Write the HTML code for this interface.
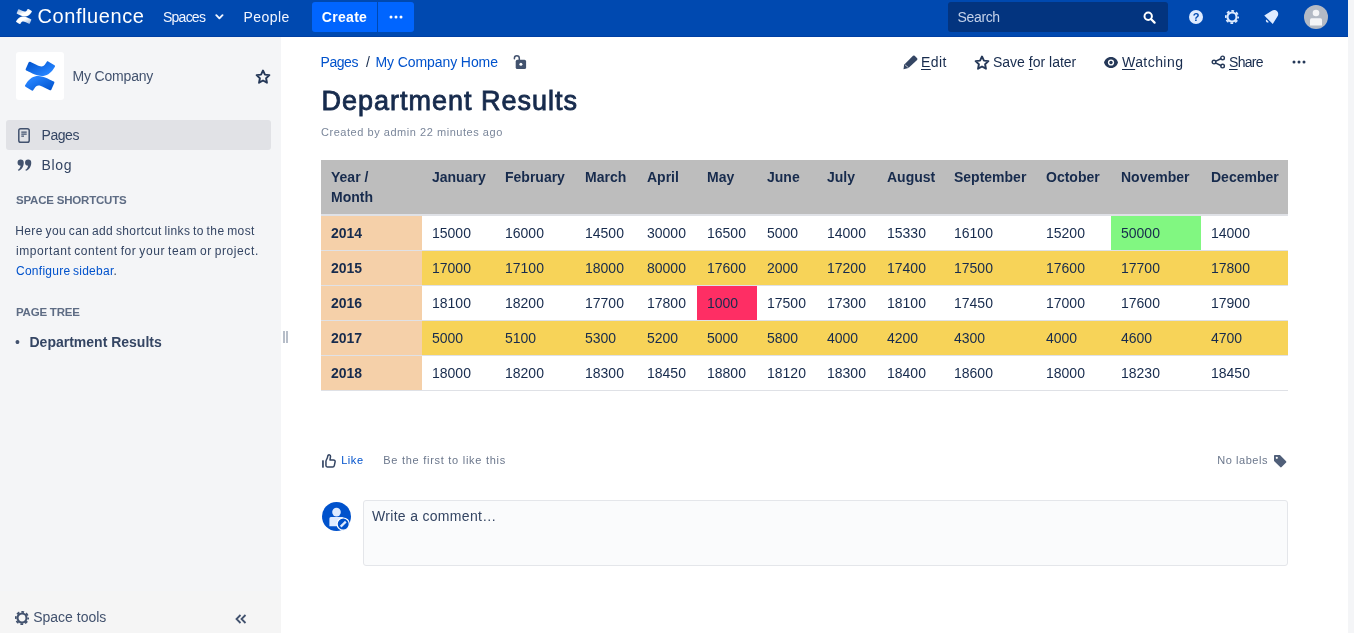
<!DOCTYPE html>
<html lang="en">
<head>
<meta charset="utf-8">
<title>Department Results - My Company - Confluence</title>
<style>
*{box-sizing:border-box;margin:0;padding:0}
html,body{width:1354px;height:633px;overflow:hidden;background:#fff}
body{font-family:"Liberation Sans",sans-serif;font-size:14px;color:#172b4d;position:relative}
a{color:#0052cc;text-decoration:none}
.abs{position:absolute;white-space:nowrap}
svg{display:block}
/* ---------- header ---------- */
#header{position:absolute;left:0;top:0;width:1348px;height:37px;background:#0049b0;border-bottom:1px solid #003fa3}
#header .nav{position:absolute;top:0;height:37px;line-height:34px;color:#f2f6ff;font-size:14px;white-space:nowrap}
#logo-text{position:absolute;left:37.500px;top:-1px;line-height:34px;font-size:20px;color:#fff;white-space:nowrap}
#create{position:absolute;left:312px;top:2px;width:65px;height:30px;background:#0065ff;border-radius:3px 0 0 3px;color:#fff;font-weight:bold;font-size:14px;line-height:30px;text-align:center}
#create-more{position:absolute;left:378px;top:2px;width:36px;height:30px;background:#0065ff;border-radius:0 3px 3px 0}
#search{position:absolute;left:948px;top:2px;width:220px;height:30px;background:#03347f;border-radius:3px;color:#c4d1ea;line-height:30px;padding-left:10px;font-size:14px}
#scroll{position:absolute;left:1348px;top:0;width:6px;height:633px;background:#f4f5f7}
/* ---------- sidebar ---------- */
#sidebar{position:absolute;left:0;top:37px;width:281px;height:596px;background:#f4f5f7}
#space-logo{position:absolute;left:16px;top:15px;width:48px;height:48px;background:#fff;border-radius:3px}
.side-item{position:absolute;left:6px;width:265px;height:30px;border-radius:3px;line-height:30px;color:#344563;font-size:14px}
.side-item span{position:absolute;left:36px;top:0}
.side-h{position:absolute;left:16px;font-size:12px;font-weight:bold;color:#5e6c84;white-space:nowrap;line-height:14px}
.tip{word-spacing:-1px;position:absolute;left:16px;font-size:12px;line-height:20px;color:#344563;white-space:nowrap}
/* ---------- main ---------- */
#main{position:absolute;left:281px;top:37px;width:1067px;height:596px;background:#fff}
.act{position:absolute;top:0;font-size:14px;color:#172b4d;line-height:16px;white-space:nowrap}
.act u{text-decoration:underline;text-underline-offset:2px}
h1{position:absolute;left:40.500px;top:49px;font-size:24px;font-weight:bold;line-height:30px;color:#172b4d;white-space:nowrap}
/* table */
table{position:absolute;left:40px;top:123px;border-collapse:collapse;table-layout:fixed;width:967px;font-size:14px;color:#172b4d}
th,td{padding:0 0 0 10px;text-align:left;vertical-align:top;white-space:nowrap;overflow:hidden}
thead th{height:55px;background:#bdbdbd;font-weight:bold;line-height:20px;padding-top:7px;border-bottom:2px solid #dfe1e6}
thead tr{height:55px}
tbody td,tbody th{height:35px;line-height:34px;border-bottom:1px solid #dfe1e6}
tbody th{background:#f5d0a9;font-weight:bold}
tr.y td{background:#f7d358}
td.r{background:#fe2e64}
td.g{background:#81f781}

/*FIT*/
#logo-text{letter-spacing:.58px}
#t-spaces{letter-spacing:-.76px}
#t-people{letter-spacing:.44px}
#t-create{letter-spacing:.3px}
#t-search{letter-spacing:-.34px}
#t-myco{letter-spacing:-.18px}
#t-pages{letter-spacing:-.43px}
#t-blog{letter-spacing:.67px}
#t-ss{font-size:11.5px;letter-spacing:-.2px}
#t-tip1{letter-spacing:.39px}
#t-tip2{letter-spacing:.59px}
#t-tip3{letter-spacing:.26px}
#t-pt{font-size:11.5px;letter-spacing:-.22px}
#t-bc1{letter-spacing:-.45px}
#t-bc2{letter-spacing:-.09px}
#t-h1{font-size:27px;font-weight:normal;-webkit-text-stroke:.85px #172b4d;letter-spacing:1px}
#t-meta{letter-spacing:.54px}
#t-edit{letter-spacing:.43px}
#t-watch{letter-spacing:.44px}
#t-share{letter-spacing:-.7px}
#t-first{letter-spacing:.73px}
#t-nolab{letter-spacing:.55px}
#t-wc{letter-spacing:.31px}
#t-like{letter-spacing:.55px}
#t-spaces{margin-left:-1px}
#t-people,#t-search,#t-myco,#t-pages,#t-blog,#t-dr,#t-bc1,#t-bc2{margin-left:-.5px}
#t-tip1,#t-st,#t-like,#t-first,#t-nolab{margin-left:-.8px}
/*ENDFIT*/
</style>
</head>
<body>
<div id="header">
  <svg class="abs" style="left:16px;top:9px" width="16" height="15" viewBox="0 0 16 15">
    <defs><linearGradient id="w1" x1="1" y1="1" x2="0.250" y2="0.200"><stop offset="0" stop-color="#fff" stop-opacity=".55"/><stop offset=".7" stop-color="#fff"/></linearGradient><linearGradient id="w2" x1="0" y1="0" x2="0.750" y2="0.800"><stop offset="0" stop-color="#fff" stop-opacity=".55"/><stop offset=".7" stop-color="#fff"/></linearGradient></defs>
    <path d="M0.600 11.600c-.2.300-.4.600-.5.800-.1.300 0 .6.200.7l3.300 2c.3.200.6.100.8-.2.100-.2.300-.5.500-.8 1.300-2.100 2.600-1.900 4.900-.8l3.200 1.500c.3.100.6 0 .8-.3l1.500-3.500c.1-.3 0-.6-.3-.7-.7-.3-2-1-3.200-1.500C7.400 6.700 3.500 6.900.600 11.600z" fill="url(#w1)"/>
    <path d="M15.400 3.400c.2-.3.400-.6.500-.8.100-.3 0-.6-.2-.7l-3.300-2c-.3-.2-.6-.1-.8.200-.1.200-.3.500-.5.800-1.300 2.100-2.600 1.900-4.900.8L3 .200c-.3-.1-.6 0-.8.300L.700 4c-.1.300 0 .6.300.7.700.3 2 1 3.200 1.500C8.600 8.300 12.500 8.100 15.400 3.400z" fill="url(#w2)"/>
  </svg>
  <div id="logo-text">Confluence</div>
  <div class="nav" id="t-spaces" style="left:164px">Spaces</div>
  <svg class="abs" style="left:215px;top:14px" width="9" height="6" viewBox="0 0 9 6"><path d="M1.300 1.200l3.100 3.100 3.100-3.100" stroke="#f2f6ff" stroke-width="1.900" fill="none" stroke-linecap="round" stroke-linejoin="round"/></svg>
  <div class="nav" id="t-people" style="left:244px">People</div>
  <div id="create"><span id="t-create">Create</span></div>
  <div id="create-more"><svg class="abs" style="left:11px;top:13px" width="14" height="4" viewBox="0 0 14 4"><circle cx="2" cy="2" r="1.500" fill="#fff"/><circle cx="7" cy="2" r="1.500" fill="#fff"/><circle cx="12" cy="2" r="1.500" fill="#fff"/></svg></div>
  <div id="search"><span id="t-search">Search</span></div>
  <svg class="abs" style="left:1143px;top:11px" width="13" height="13" viewBox="0 0 13 13"><circle cx="5.200" cy="5.200" r="3.700" stroke="#fff" stroke-width="2" fill="none"/><path d="M8.200 8.200L11.600 11.600" stroke="#fff" stroke-width="2.200" stroke-linecap="round"/></svg>
  <!-- help -->
  <svg class="abs" style="left:1189px;top:10px" width="14" height="14" viewBox="0 0 14 14"><circle cx="7" cy="7" r="7" fill="#deebff"/><text x="7" y="11" font-family="Liberation Sans, sans-serif" font-size="11" font-weight="bold" fill="#0049b0" text-anchor="middle">?</text></svg>
  <!-- gear -->
  <svg class="abs" style="left:1225px;top:10px" width="14" height="14" viewBox="0 0 14 14"><circle cx="7" cy="7" r="4.500" stroke="#deebff" stroke-width="2.100" fill="none"/><circle cx="7" cy="7" r="6.200" stroke="#deebff" stroke-width="1.700" fill="none" stroke-dasharray="2.800 2.070" stroke-dashoffset="1.400"/></svg>
  <!-- bell -->
  <svg class="abs" style="left:1260px;top:6px" width="22" height="22" viewBox="0 0 22 22"><g transform="translate(8.500 13.800) rotate(45)" fill="#deebff"><path d="M-6 0L-4.100-8.300C-3.600-10.700-2-12.200 0-12.200C2-12.200 3.600-10.700 4.100-8.300L6 0Z"/><path d="M-1.700 1.300a1.700 1.700 0 0 0 3.400 0z"/></g></svg>
  <!-- avatar -->
  <svg class="abs" style="left:1304px;top:5px" width="24" height="24" viewBox="0 0 24 24"><circle cx="12" cy="12" r="12" fill="#b3bac5"/><circle cx="12" cy="8" r="3.300" fill="#f4f5f7"/><path d="M6 14.800a1.500 1.500 0 0 1 1.500-1.500h9a1.500 1.500 0 0 1 1.500 1.500v5.700h-12z" fill="#f4f5f7"/></svg>
</div>
<div id="scroll"></div>

<div id="sidebar">
  <div id="space-logo">
    <svg class="abs" style="left:9px;top:9px" width="30" height="30" viewBox="0 0 30 30">
      <defs><linearGradient id="g1" x1="1" y1=".9" x2=".2" y2=".2"><stop offset="0" stop-color="#0052cc"/><stop offset="1" stop-color="#2684ff"/></linearGradient><linearGradient id="g2" x1="0" y1=".1" x2=".8" y2=".8"><stop offset="0" stop-color="#0052cc"/><stop offset="1" stop-color="#2684ff"/></linearGradient></defs>
      <path d="M1.100 22.800c-.3.500-.7 1.100-1 1.500-.3.500-.1 1.100.4 1.400l6.300 3.900c.5.300 1.100.2 1.400-.3.300-.4.600-1 1-1.600 2.500-4.100 5-3.600 9.500-1.500l6.200 3c.5.200 1.100 0 1.400-.5l3-6.800c.2-.5 0-1.100-.5-1.300-1.300-.6-3.900-1.800-6.200-3C14.100 13.500 6.700 13.800 1.100 22.800z" fill="url(#g1)"/>
      <path d="M28.900 7.200c.3-.5.700-1.100 1-1.500.3-.5.100-1.100-.4-1.400L23.200.4c-.5-.3-1.100-.2-1.400.3-.3.400-.6 1-1 1.600-2.500 4.100-5 3.600-9.500 1.500L5.100.8c-.5-.2-1.100 0-1.400.5l-3 6.800c-.2.500 0 1.100.5 1.300 1.300.6 3.900 1.800 6.200 3C15.900 16.500 23.300 16.200 28.900 7.200z" fill="url(#g2)"/>
    </svg>
  </div>
  <div class="abs" style="left:73px;top:30px;line-height:18px;font-size:14px;color:#42526e" id="t-myco">My Company</div>
  <svg class="abs" style="left:255px;top:31.500px" width="16" height="15" viewBox="0 0 16 15"><path d="M8 1.500l1.950 4.100 4.450.55-3.300 3.100.85 4.450L8 11.500 4.050 13.700l.85-4.450-3.300-3.100 4.450-.55z" stroke="#253858" stroke-width="1.900" fill="none" stroke-linejoin="round"/></svg>

  <div class="side-item" style="top:83px;background:#e1e2e6">
    <svg class="abs" style="left:12px;top:8px" width="12" height="15" viewBox="0 0 12 15"><rect x=".8" y=".8" width="10.400" height="13.400" rx="1.800" stroke="#42526e" stroke-width="1.500" fill="none"/><path d="M3.300 4.200h5.400M3.300 6.200h5.400M3.300 8.200h2.700" stroke="#42526e" stroke-width="1.200"/></svg>
    <span id="t-pages">Pages</span>
  </div>
  <div class="side-item" style="top:113px">
    <svg class="abs" style="left:10.500px;top:8.500px" width="15" height="12.500" viewBox="0 0 14 11"><path d="M0.500 3.100a2.900 2.900 0 1 1 5.800 0c0 3.800-2.200 6.600-5 7.600l-.5-.9c1.300-.8 2.300-2.100 2.600-3.900A2.900 2.900 0 0 1 .500 3.100zM7.500 3.100a2.900 2.900 0 1 1 5.800 0c0 3.800-2.200 6.600-5 7.600l-.5-.9c1.300-.8 2.300-2.100 2.600-3.900A2.900 2.900 0 0 1 7.500 3.100z" fill="#42526e"/></svg>
    <span id="t-blog">Blog</span>
  </div>
  <div class="side-h" id="t-ss" style="top:156px">SPACE SHORTCUTS</div>
  <div class="tip" id="t-tip1" style="top:184px">Here you can add shortcut links to the most</div>
  <div class="tip" id="t-tip2" style="top:204px">important content for your team or project.</div>
  <div class="tip" id="t-tip3" style="top:224px"><a>Configure sidebar</a>.</div>
  <div class="side-h" id="t-pt" style="top:268px">PAGE TREE</div>
  <div class="abs" style="left:15px;top:295px;font-size:14px;line-height:20px;color:#42526e">&bull;</div>
  <div class="abs" style="left:30px;top:295px;font-size:14px;line-height:20px;font-weight:bold;color:#344563" id="t-dr">Department Results</div>
  <!-- space tools -->
  <div class="abs" style="left:0;top:554px;width:281px;height:42px;background:#f5f5f5"></div>
  <svg class="abs" style="left:15px;top:573.500px" width="14" height="14" viewBox="0 0 14 14"><circle cx="7" cy="7" r="4.500" stroke="#42526e" stroke-width="2.100" fill="none"/><circle cx="7" cy="7" r="6.200" stroke="#42526e" stroke-width="1.700" fill="none" stroke-dasharray="2.800 2.070" stroke-dashoffset="1.400"/></svg>
  <div class="abs" style="left:34px;top:570px;font-size:14px;line-height:20px;color:#42526e" id="t-st">Space tools</div>
  <svg class="abs" style="left:235px;top:577px" width="12" height="10" viewBox="0 0 12 10"><path d="M5.500 1L1.500 5l4 4M10.500 1L6.500 5l4 4" stroke="#42526e" stroke-width="1.800" fill="none"/></svg>
</div>

<div id="main">
  <div class="abs" id="t-bc1" style="left:40px;top:16px;line-height:18px"><a>Pages</a></div>
  <div class="abs" style="left:85px;top:16px;line-height:18px">/</div>
  <div class="abs" id="t-bc2" style="left:95px;top:16px;line-height:18px"><a>My Company Home</a></div>

  <!-- lock -->
  <svg class="abs" style="left:232px;top:17px" width="15" height="16" viewBox="0 0 15 16"><path d="M6.300 6V4.300a2.450 2.450 0 0 0-4.900 0v.5" stroke="#42526e" stroke-width="1.500" fill="none" stroke-linecap="round"/><rect x="2.700" y="5.800" width="10.400" height="9.200" rx="1.600" fill="#42526e"/><circle cx="7.900" cy="10.300" r="1.500" fill="#fff"/></svg>
  <!-- page actions -->
  <svg class="abs" style="left:621.500px;top:17.500px" width="16" height="15" viewBox="0 0 16 15"><path d="M.500 14.200L1.100 9.700L10 .800Q10.850 0 11.700 .800L14.100 3.300Q14.900 4.150 14.100 5L5.400 13.100Z" fill="#344563"/><path d="M2.100 9.900L5.500 12.700" stroke="#fff" stroke-width=".7"/></svg>
  <div class="act" id="t-edit" style="left:640px;top:17px"><u>E</u>dit</div>
  <svg class="abs" style="left:693px;top:18px" width="16" height="15" viewBox="0 0 16 15"><path d="M8 1.500l1.950 4.100 4.450.55-3.300 3.100.85 4.450L8 11.500 4.050 13.700l.85-4.450-3.300-3.100 4.450-.55z" stroke="#253858" stroke-width="1.900" fill="none" stroke-linejoin="round"/></svg>
  <div class="act" id="t-save" style="left:712px;top:17px">Save <u>f</u>or later</div>
  <svg class="abs" style="left:823px;top:19.500px" width="14" height="11" viewBox="0 0 14 11"><path d="M7 0C3.200 0 .700 2.700 0 5.500 .700 8.300 3.200 11 7 11s6.300-2.700 7-5.500C13.300 2.700 10.800 0 7 0z" fill="#253858"/><circle cx="7" cy="5.500" r="3.100" fill="#fff"/><circle cx="7" cy="5.500" r="1.700" fill="#253858"/></svg>
  <div class="act" id="t-watch" style="left:841px;top:17px"><u>W</u>atching</div>
  <svg class="abs" style="left:930px;top:18px" width="15" height="14" viewBox="0 0 15 14"><path d="M10.300 3.500L4.400 6.400M4.400 7.900l5.900 2.800" stroke="#253858" stroke-width="1.500" fill="none"/><circle cx="11.600" cy="2.900" r="1.800" stroke="#253858" stroke-width="1.400" fill="none"/><circle cx="11.600" cy="11.100" r="1.800" stroke="#253858" stroke-width="1.400" fill="none"/><circle cx="3" cy="7.100" r="1.800" stroke="#253858" stroke-width="1.400" fill="none"/></svg>
  <div class="act" id="t-share" style="left:948px;top:17px"><u>S</u>hare</div>
  <svg class="abs" style="left:1011px;top:23px" width="14" height="4" viewBox="0 0 14 4"><circle cx="2" cy="2" r="1.500" fill="#253858"/><circle cx="7" cy="2" r="1.500" fill="#253858"/><circle cx="12" cy="2" r="1.500" fill="#253858"/></svg>
  <h1 id="t-h1">Department Results</h1>
  <div class="abs" style="left:40px;top:87px;font-size:11px;line-height:16px;color:#7a869a" id="t-meta">Created by admin 22 minutes ago</div>

  <table>
    <colgroup><col style="width:101px"><col style="width:73px"><col style="width:80px"><col style="width:62px"><col style="width:60px"><col style="width:60px"><col style="width:60px"><col style="width:60px"><col style="width:67px"><col style="width:92px"><col style="width:75px"><col style="width:90px"><col style="width:87px"></colgroup>
    <thead><tr><th>Year /<br>Month</th><th>January</th><th>February</th><th>March</th><th>April</th><th>May</th><th>June</th><th>July</th><th>August</th><th>September</th><th>October</th><th>November</th><th>December</th></tr></thead>
    <tbody>
      <tr><th>2014</th><td>15000</td><td>16000</td><td>14500</td><td>30000</td><td>16500</td><td>5000</td><td>14000</td><td>15330</td><td>16100</td><td>15200</td><td class="g">50000</td><td>14000</td></tr>
      <tr class="y"><th>2015</th><td>17000</td><td>17100</td><td>18000</td><td>80000</td><td>17600</td><td>2000</td><td>17200</td><td>17400</td><td>17500</td><td>17600</td><td>17700</td><td>17800</td></tr>
      <tr><th>2016</th><td>18100</td><td>18200</td><td>17700</td><td>17800</td><td class="r">1000</td><td>17500</td><td>17300</td><td>18100</td><td>17450</td><td>17000</td><td>17600</td><td>17900</td></tr>
      <tr class="y"><th>2017</th><td>5000</td><td>5100</td><td>5300</td><td>5200</td><td>5000</td><td>5800</td><td>4000</td><td>4200</td><td>4300</td><td>4000</td><td>4600</td><td>4700</td></tr>
      <tr><th>2018</th><td>18000</td><td>18200</td><td>18300</td><td>18450</td><td>18800</td><td>18120</td><td>18300</td><td>18400</td><td>18600</td><td>18000</td><td>18230</td><td>18450</td></tr>
    </tbody>
  </table>

  <!-- like row -->
  <svg class="abs" style="left:41px;top:417px" width="14" height="14" viewBox="0 0 14 14"><rect x=".1" y="6.200" width="1.700" height="7.500" rx=".4" fill="#344563"/><path d="M3.950 11.600V7.200C3.950 6.300 4.900 5.200 5.400 3.600L5.800 2C6.100 .900 7 .700 7.600 .900 8.400 1.100 8.600 1.900 8.500 2.600L8 5.950H11.400C12.600 5.950 13.300 6.900 13.100 7.900L12.300 11.600C12.100 12.500 11.500 12.950 10.700 12.950H5.300C4.500 12.950 3.950 12.400 3.950 11.600Z" stroke="#344563" stroke-width="1.500" fill="none" stroke-linejoin="round"/></svg>
  <div class="abs" style="left:61px;top:415px;font-size:11px;line-height:16px" id="t-like"><a>Like</a></div>
  <div class="abs" style="left:103px;top:415px;font-size:11px;line-height:16px;color:#6b778c" id="t-first">Be the first to like this</div>
  <div class="abs" style="left:937px;top:415px;font-size:11px;line-height:16px;color:#6b778c" id="t-nolab">No labels</div>
  <svg class="abs" style="left:992px;top:417px" width="14" height="14" viewBox="0 0 14 14"><path d="M1 1.800C1 1.300 1.300 1 1.800 1h4.600c.3 0 .6.100.8.300l5.900 5.900c.4.400.4 1 0 1.400l-4.500 4.500c-.4.400-1 .4-1.400 0L1.300 7.200c-.2-.2-.3-.5-.3-.8z" fill="#505f79"/><circle cx="3.800" cy="3.800" r="1.100" fill="#fff"/></svg>
  <!-- comment -->
  <svg class="abs" style="left:40.700px;top:464.800px" width="29" height="29" viewBox="0 0 29 29"><circle cx="14.500" cy="14.500" r="14.500" fill="#0052cc"/><circle cx="14.500" cy="10.100" r="4.300" fill="#deebff"/><path d="M7.400 16.600a1.500 1.500 0 0 1 1.500-1.500h11.200a1.500 1.500 0 0 1 1.500 1.500v7.700h-14.200z" fill="#deebff"/><circle cx="21.200" cy="22.100" r="6.100" fill="#0052cc" stroke="#fff" stroke-width="1.200"/><path d="M18.700 24.600L23.800 19.600" stroke="#deebff" stroke-width="2.200"/></svg>
  <div class="abs" style="left:82px;top:463px;width:925px;height:66px;border:1px solid #e4e6ea;border-radius:3px;background:#fafbfc"></div>
  <div class="abs" style="left:91px;top:469px;font-size:14px;line-height:20px;color:#344563" id="t-wc">Write a comment&hellip;</div>
</div>
<!-- resize handle -->
<div class="abs" style="left:283px;top:331px;width:2px;height:12px;background:#b7bec9"></div>
<div class="abs" style="left:286px;top:331px;width:2px;height:12px;background:#b7bec9"></div>
</body>
</html>
